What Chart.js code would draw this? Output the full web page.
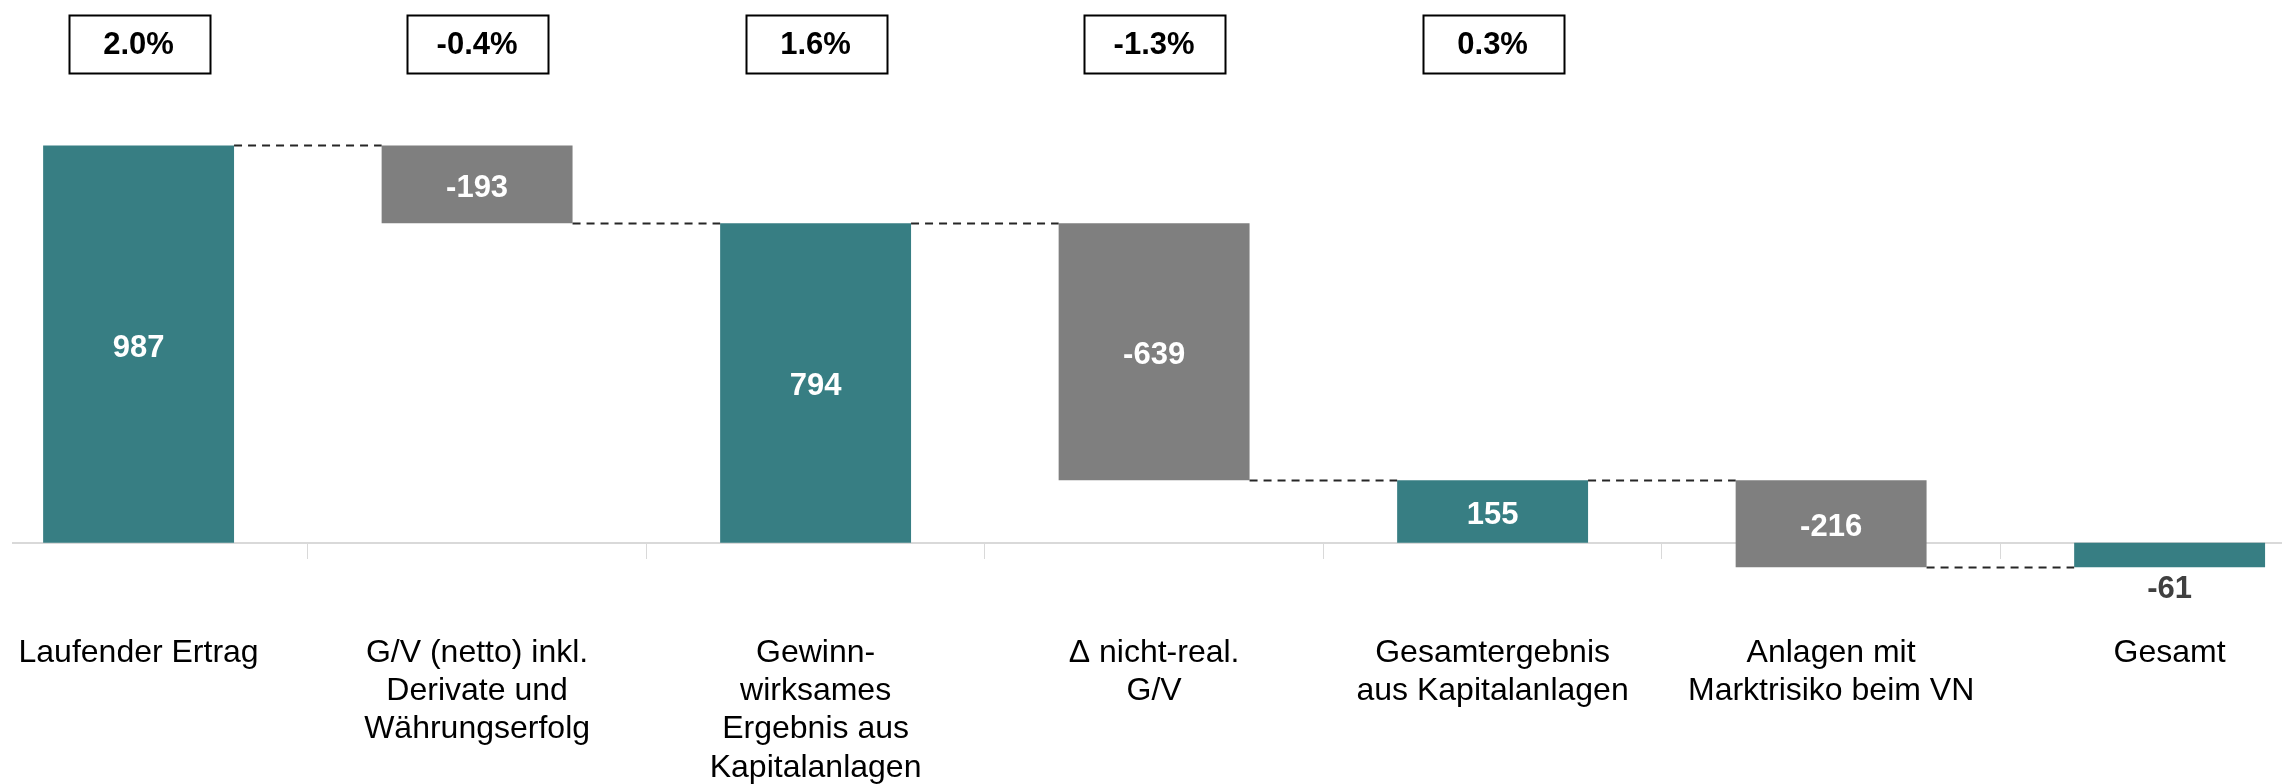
<!DOCTYPE html>
<html lang="de">
<head>
<meta charset="utf-8">
<title>Kapitalanlageergebnis</title>
<script src="https://cdn.jsdelivr.net/npm/chart.js@4"></script>
<style>
  html, body { margin: 0; padding: 0; background: #fff; }
  canvas { display: block; }
</style>
</head>
<body>
<canvas id="chart" width="2282" height="784"></canvas>
<script>
// categories + values (waterfall: totals start at 0, deltas start at running level)
const categories = [
  'Laufender Ertrag',
  ['G/V (netto) inkl.', 'Derivate und', 'Währungserfolg'],
  ['Gewinn-', 'wirksames', 'Ergebnis aus', 'Kapitalanlagen'],
  ['\u0394 nicht-real.', 'G/V'],
  ['Gesamtergebnis', 'aus Kapitalanlagen'],
  ['Anlagen mit', 'Marktrisiko beim VN'],
  'Gesamt'
];
const values  = [987, -193, 794, -639, 155, -216, -61];
const isTotal = [true, false, true, false, true, false, true];
const shares  = ['2.0%', '-0.4%', '1.6%', '-1.3%', '0.3%'];

const TEAL = '#377e83';
const GREY = '#7f7f7f';
const FONT = '"Liberation Sans", Arial, sans-serif';

// floating ranges + running level after each bar
const ranges = [], levels = [];
let level = 0;
values.forEach((v, i) => {
  if (isTotal[i]) { ranges.push([0, v]); level = v; }
  else { ranges.push([level, level + v]); level += v; }
  levels.push(level);
});

const waterfallExtras = {
  id: 'waterfallExtras',
  afterDatasetsDraw(chart){
    const {ctx, chartArea, scales: {y}} = chart;
    const bars = chart.getDatasetMeta(0).data;
    ctx.save();

    // dashed connectors
    ctx.strokeStyle = '#262626';
    ctx.lineWidth = 2;
    ctx.setLineDash([8, 6]);
    for(let i = 0; i < bars.length - 1; i++){
      const py = Math.round(y.getPixelForValue(levels[i])) + 0.5;
      ctx.beginPath();
      ctx.moveTo(bars[i].x + bars[i].width/2, py);
      ctx.lineTo(bars[i+1].x - bars[i+1].width/2, py);
      ctx.stroke();
    }
    ctx.setLineDash([]);

    // value labels
    ctx.font = 'bold 31px ' + FONT;
    ctx.textAlign = 'center';
    ctx.textBaseline = 'middle';
    bars.forEach((b, i) => {
      const h = Math.abs(b.base - b.y);
      if(h > 45){
        ctx.fillStyle = '#fff';
        ctx.fillText(String(values[i]), b.x, (b.y + b.base)/2 + 4);
      } else {
        ctx.fillStyle = '#404040';
        ctx.fillText(String(values[i]), b.x, Math.max(b.y, b.base) + 22);
      }
    });

    // share boxes above the bars
    shares.forEach((s, i) => {
      const b = bars[i];
      const cy = chartArea.top - 56;
      ctx.lineWidth = 2;
      ctx.strokeStyle = '#000';
      ctx.strokeRect(Math.round(b.x - 70) + 0.5, Math.round(cy - 29) + 0.5, 141, 58);
      ctx.fillStyle = '#000';
      ctx.fillText(s, b.x, cy + 1);
    });
    ctx.restore();
  }
};

new Chart(document.getElementById('chart'), {
  type: 'bar',
  data: {
    datasets: [{
      data: ranges.map((r, i) => ({x: i, y: r})),
      backgroundColor: isTotal.map(t => t ? TEAL : GREY),
      borderWidth: 0,
      categoryPercentage: 1,
      barPercentage: 0.564
    }]
  },
  options: {
    responsive: false,
    animation: false,
    devicePixelRatio: 1,
    layout: { padding: { left: 13, right: 0, top: 100, bottom: 181 } },
    plugins: { legend: { display: false }, tooltip: { enabled: false } },
    scales: {
      x: {
        type: 'linear',
        position: { y: 0 },
        offset: false,
        min: -0.371,
        max: 6.332,
        bounds: 'data',
        afterBuildTicks: s => { s.ticks = categories.map((_, i) => ({ value: i })); },
        afterFit: s => { s.paddingLeft = 0; s.paddingRight = 0; },
        grid: { offset: true, drawOnChartArea: false, tickLength: 15, color: '#d9d9d9', lineWidth: 1 },
        border: { color: '#d9d9d9', width: 2 },
        ticks: {
          autoSkip: false, maxRotation: 0, minRotation: 0,
          padding: 76,
          color: '#000',
          font: { family: FONT, size: 32, lineHeight: 1.2 },
          callback: (v, i) => categories[i]
        }
      },
      y: { display: false, min: -150, max: 1100, bounds: 'data' }
    }
  },
  plugins: [waterfallExtras]
});
</script>
</body>
</html>
